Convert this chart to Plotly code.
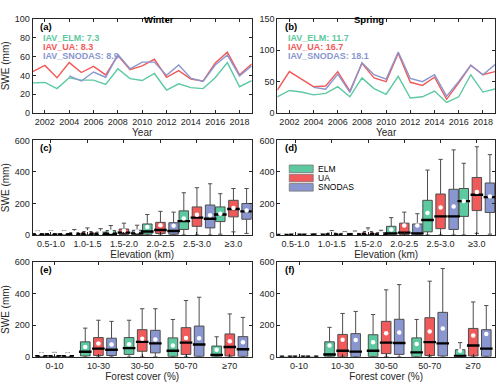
import plotly.graph_objects as go
from plotly.subplots import make_subplots

# --- time series (SWE, mm), water years 2001-2019 ---
years = list(range(2001, 2020))

winter_elm = [32, 32.5, 26, 37.5, 35, 35, 30.5, 47, 36.5, 34.5, 42, 24.5, 31, 27, 26, 37.5, 53.5, 28, 34.5]
winter_ua = [44, 50.5, 37.5, 53.5, 43, 49.5, 40.5, 61, 46, 50, 57, 38, 45, 36, 34, 53, 64.5, 40.5, 52]
winter_snodas = [None, None, None, 39.5, 34, 43.5, 38, 62, 47, 54, 54, 40, 51, 37, 33.5, 51, 61.5, 39.5, 50]

spring_elm = [26, 36, 33.5, 29, 31.5, 42, 26, 56, 39, 30, 58.5, 24, 26, 35, 17, 26, 61, 33.5, 38.5]
spring_ua = [36.5, 66, 54, 42, 43, 66, 35, 79, 56, 50, 95, 49, 44, 57, 22, 48, 76, 61, 66]
spring_snodas = [None, None, None, 41, 38, 62, 33, 80, 61, 54, 97, 55, 50, 61, 27, 50.5, 76, 61, 77]

iav_winter = {"ELM": 7.3, "UA": 8.3, "SNODAS": 8.9}
iav_spring = {"ELM": 11.7, "UA": 16.7, "SNODAS": 18.1}

# --- box statistics: (lower whisker, q1, median, q3, upper whisker, mean) ---
elev_bins = ["0.5-1.0", "1.0-1.5", "1.5-2.0", "2.0-2.5", "2.5-3.0", "≥3.0"]
forest_bins = ["0-10", "10-30", "30-50", "50-70", "≥70"]

winter_elev_elm = [(0, 0, 4, 8, 25, 14), (0, 0, 5, 15, 35, 12), (0, 1, 8, 28, 60, 20),
                   (0, 5, 22, 70, 130, 50), (0, 35, 88, 153, 268, 105), (5, 85, 130, 178, 262, 135)]
winter_elev_ua = [(0, 0, 4, 9, 27, 15), (0, 1, 8, 22, 45, 15), (0, 3, 15, 38, 75, 27),
                  (0, 10, 32, 80, 150, 62), (0, 55, 110, 178, 300, 128), (20, 115, 165, 220, 295, 172)]
winter_elev_snodas = [(0, 0, 4, 9, 27, 15), (0, 1, 6, 18, 40, 13), (0, 2, 10, 30, 62, 22),
                      (0, 5, 25, 78, 145, 58), (0, 45, 103, 190, 325, 125), (10, 100, 150, 200, 295, 155)]

spring_elev_elm = [(0, 0, 0, 2, 5, 2), (0, 0, 1, 4, 10, 3), (0, 0, 3, 10, 25, 7),
                   (0, 1, 10, 55, 110, 35), (0, 20, 95, 220, 412, 140), (0, 118, 215, 295, 455, 215)]
spring_elev_ua = [(0, 0, 1, 3, 8, 4), (0, 0, 3, 12, 28, 9), (0, 1, 6, 22, 45, 15),
                  (0, 2, 15, 75, 145, 60), (0, 40, 118, 260, 480, 175), (10, 155, 255, 365, 560, 272)]
spring_elev_snodas = [(0, 0, 1, 3, 8, 4), (0, 0, 2, 10, 20, 6), (0, 0, 4, 15, 30, 10),
                      (0, 1, 10, 70, 135, 60), (0, 35, 118, 290, 540, 180), (5, 143, 240, 330, 510, 245)]

winter_forest_elm = [(0, 0, 3, 8, 25, 14), (0, 5, 32, 95, 182, 62), (0, 15, 55, 122, 232, 80),
                     (0, 3, 38, 120, 237, 72), (0, 0, 12, 68, 127, 45)]
winter_forest_ua = [(0, 0, 3, 8, 28, 14), (0, 8, 52, 122, 232, 85), (0, 35, 95, 172, 305, 115),
                    (0, 15, 90, 185, 357, 120), (0, 5, 62, 145, 272, 98)]
winter_forest_snodas = [(0, 0, 3, 8, 25, 14), (0, 8, 45, 118, 225, 78), (0, 25, 85, 168, 305, 110),
                        (0, 3, 78, 195, 378, 117), (0, 3, 48, 128, 250, 92)]

spring_forest_elm = [(0, 0, 0, 2, 4, 2), (0, 0, 15, 95, 187, 72), (0, 2, 38, 140, 268, 92),
                     (0, 0, 28, 120, 237, 82), (0, 0, 5, 45, 90, 38)]
spring_forest_ua = [(0, 0, 1, 3, 8, 4), (0, 0, 38, 142, 275, 108), (0, 20, 90, 225, 425, 150),
                    (0, 8, 93, 248, 480, 160), (0, 5, 72, 180, 348, 135)]
spring_forest_snodas = [(0, 0, 1, 3, 6, 3), (0, 0, 33, 147, 288, 107), (0, 15, 88, 238, 458, 155),
                        (0, 5, 85, 282, 560, 180), (0, 3, 52, 172, 325, 145)]

SERIES = ["ELM", "UA", "SNODAS"]
COLORS = {"ELM": "#5cc9a0", "UA": "#f15a5a", "SNODAS": "#8a96cf"}
INK = "#262626"
FONT = "Liberation Sans, Arial, sans-serif"

fig = make_subplots(rows=3, cols=2)

# line panels
for col, (elm, ua, sno) in enumerate(
        [(winter_elm, winter_ua, winter_snodas), (spring_elm, spring_ua, spring_snodas)], start=1):
    for name, vals in zip(SERIES, (elm, ua, sno)):
        fig.add_trace(go.Scatter(x=years, y=vals, mode="lines", showlegend=False,
                                 line=dict(color=COLORS[name], width=1.4)),
                      row=1, col=col)


def add_boxes(row, col, stats_by_series, offset, width, med_px):
    for k, name in enumerate(SERIES):
        stats = stats_by_series[k]
        pos = [i + 1 + (k - 1) * offset for i in range(len(stats))]
        lo, q1, med, q3, hi, mean = (list(v) for v in zip(*stats))
        fig.add_trace(go.Box(x=pos, lowerfence=lo, q1=q1, median=med, q3=q3,
                             upperfence=hi, width=width, whiskerwidth=0.45,
                             orientation="v",
                             fillcolor=COLORS[name], line=dict(color="#4d4d4d", width=1),
                             boxpoints=False, showlegend=False, hoverinfo="skip"),
                      row=row, col=col)
        fig.add_trace(go.Scatter(x=pos, y=med, mode="markers", showlegend=False,
                                 marker=dict(symbol="line-ew", size=med_px,
                                             line=dict(color="black", width=2.4))),
                      row=row, col=col)
        fig.add_trace(go.Scatter(x=pos, y=mean, mode="markers", showlegend=False,
                                 marker=dict(symbol="circle", size=4.5, color="white")),
                      row=row, col=col)


add_boxes(2, 1, [winter_elev_elm, winter_elev_ua, winter_elev_snodas], 0.36, 0.26, 9)
add_boxes(2, 2, [spring_elev_elm, spring_elev_ua, spring_elev_snodas], 0.36, 0.26, 9)
add_boxes(3, 1, [winter_forest_elm, winter_forest_ua, winter_forest_snodas], 0.30, 0.22, 9)
add_boxes(3, 2, [spring_forest_elm, spring_forest_ua, spring_forest_snodas], 0.30, 0.22, 9)

# panel geometry (paper fractions)
W, H = 500, 392
xdom = [[32.7 / W, 251.7 / W], [277.3 / W, 495 / W]]
ydom = [[1 - 111 / H, 1 - 14 / H], [1 - 236 / H, 1 - 139 / H], [1 - 361 / H, 1 - 264 / H]]

axis_common = dict(showline=True, linecolor=INK, linewidth=1, mirror="ticks",
                   ticks="inside", ticklen=3, tickwidth=1, tickcolor=INK,
                   showgrid=False, zeroline=False,
                   tickfont=dict(size=9, color=INK, family=FONT))

xtitles = ["Year", "Elevation (km)", "Forest cover (%)"]
for r in range(3):
    for c in range(2):
        fig.update_xaxes(domain=xdom[c], row=r + 1, col=c + 1, **axis_common,
                         title=dict(text=xtitles[r], font=dict(size=10, color=INK, family=FONT),
                                    standoff=3))
        fig.update_yaxes(domain=ydom[r], row=r + 1, col=c + 1, **axis_common)
        if c == 0:
            fig.update_yaxes(row=r + 1, col=1,
                             title=dict(text="SWE (mm)", font=dict(size=10, color=INK, family=FONT),
                                        standoff=5))

year_ticks = list(range(2002, 2019, 2))
fig.update_xaxes(row=1, col=1, range=[2001, 2019], tickvals=year_ticks)
fig.update_xaxes(row=1, col=2, range=[2001, 2019], tickvals=year_ticks)
fig.update_yaxes(row=1, col=1, range=[0, 100], dtick=20)
fig.update_yaxes(row=1, col=2, range=[0, 150], dtick=50)
for c in (1, 2):
    fig.update_xaxes(row=2, col=c, range=[0.5, len(elev_bins) + 0.5],
                     tickvals=list(range(1, len(elev_bins) + 1)), ticktext=elev_bins)
    fig.update_xaxes(row=3, col=c, range=[0.5, len(forest_bins) + 0.5],
                     tickvals=list(range(1, len(forest_bins) + 1)), ticktext=forest_bins)
    for r in (2, 3):
        fig.update_yaxes(row=r, col=c, range=[0, 600], tickvals=[0, 200, 400, 600])

annotations = []
for c, title in enumerate(["Winter", "Spring"]):
    annotations.append(dict(text="<b>%s</b>" % title, xref="paper", yref="paper",
                            x=sum(xdom[c]) / 2, y=1 - 7 / H, showarrow=False,
                            font=dict(size=9.5, color="black", family=FONT)))

labels = ["(a)", "(b)", "(c)", "(d)", "(e)", "(f)"]
for n, lab in enumerate(labels, start=1):
    sfx = "" if n == 1 else str(n)
    annotations.append(dict(text="<b>%s</b>" % lab, xref="x%s domain" % sfx,
                            yref="y%s domain" % sfx, x=0.025, y=1.0,
                            xanchor="left", yanchor="top", showarrow=False,
                            font=dict(size=9.5, color="black", family=FONT)))

for n, iav in ((1, iav_winter), (2, iav_spring)):
    sfx = "" if n == 1 else str(n)
    for k, name in enumerate(SERIES):
        annotations.append(dict(text="<b>IAV_%s: %.1f</b>" % (name, iav[name]),
                                xref="x%s domain" % sfx, yref="y%s domain" % sfx,
                                x=0.04, y=0.80 - k * 0.098, xanchor="left", yanchor="middle",
                                showarrow=False,
                                font=dict(size=9, color=COLORS[name], family=FONT)))

# legend drawn in panel (d)
shapes = []
for k, name in enumerate(SERIES):
    yc = 0.70 - k * 0.098
    shapes.append(dict(type="rect", xref="x4 domain", yref="y4 domain",
                       x0=0.055, x1=0.165, y0=yc - 0.04, y1=yc + 0.04,
                       fillcolor=COLORS[name], line=dict(color="#777777", width=0.8)))
    annotations.append(dict(text=name, xref="x4 domain", yref="y4 domain",
                            x=0.178, y=yc, xanchor="left", yanchor="middle", showarrow=False,
                            font=dict(size=8.5, color="black", family=FONT)))

fig.update_layout(width=W, height=H, margin=dict(l=0, r=0, t=0, b=0),
                  paper_bgcolor="white", plot_bgcolor="white", boxmode="overlay",
                  font=dict(family=FONT, color=INK),
                  annotations=annotations, shapes=shapes, showlegend=False)

# the page's default body margin would push the 500x392 figure off the window
fig.write_html("out.html", config={"displayModeBar": False},
               post_script="document.body.style.margin = '0';")
